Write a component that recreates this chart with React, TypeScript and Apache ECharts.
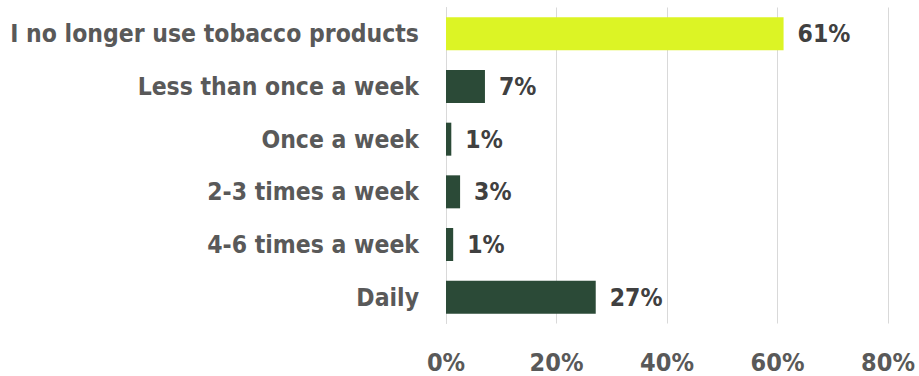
import React, { useEffect, useRef } from "react";
import * as echarts from "echarts";

const categories = [
  "I no longer use tobacco products",
  "Less than once a week",
  "Once a week",
  "2-3 times a week",
  "4-6 times a week",
  "Daily",
];
const values = [61.1, 7.05, 0.96, 2.55, 1.3, 27.1];
const labels = ["61%", "7%", "1%", "3%", "1%", "27%"];
const barColors = ["#dcf425", "#2b4a37", "#2b4a37", "#2b4a37", "#2b4a37", "#2b4a37"];
const xTicks = [0, 20, 40, 60, 80];

const FONT = "'DejaVu Sans Condensed', 'DejaVu Sans', sans-serif";

export default function App() {
  const ref = useRef<HTMLDivElement>(null);
  useEffect(() => {
    document.body.style.margin = "0";
    const chart = echarts.init(ref.current!, undefined, { renderer: "svg" });
    chart.setOption({
      animation: false,
      grid: { left: 446, right: 31, top: 7.5, bottom: 52.5, containLabel: false },
      xAxis: {
        type: "value",
        min: xTicks[0],
        max: xTicks[xTicks.length - 1],
        interval: 20,
        axisLine: { show: false },
        axisTick: { show: false },
        splitLine: { show: true, lineStyle: { color: "#d9d9d9", width: 1 } },
        axisLabel: {
          formatter: (v: number) => `${v}%`,
          color: "#595959",
          fontFamily: FONT,
          fontWeight: "bold",
          fontSize: 25,
          margin: 26,
        },
      },
      yAxis: {
        type: "category",
        inverse: true,
        data: categories,
        axisLine: { show: true, lineStyle: { color: "#d9d9d9" } },
        axisTick: { show: false },
        axisLabel: {
          color: "#595959",
          fontFamily: FONT,
          fontWeight: "bold",
          fontSize: 24.5,
          margin: 27,
        },
      },
      series: [
        {
          type: "bar",
          barWidth: 33,
          data: values.map((v, i) => ({ value: v, itemStyle: { color: barColors[i] } })),
          label: {
            show: true,
            position: "right",
            distance: 14,
            formatter: (p: any) => labels[p.dataIndex],
            color: "#404040",
            fontFamily: FONT,
            fontWeight: "bold",
            fontSize: 24.5,
          },
        },
      ],
    });
    return () => chart.dispose();
  }, []);
  return <div ref={ref} style={{ width: 919, height: 376, position: "absolute", left: 0, top: 0 }} />;
}
